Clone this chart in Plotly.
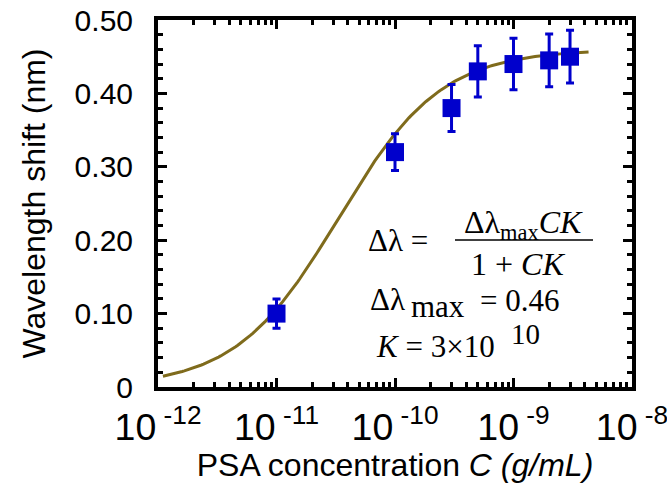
import numpy as np
import plotly.graph_objects as go

# Measured wavelength shift versus PSA concentration
conc = [1e-11, 1e-10, 3e-10, 5e-10, 1e-9, 2e-9, 3e-9]
shift = [0.100, 0.320, 0.380, 0.430, 0.440, 0.445, 0.450]
shift_err = [0.020, 0.025, 0.032, 0.035, 0.035, 0.036, 0.036]

# Langmuir-type binding fit parameters
dl_max = 0.46
K = 3e10
c_fit = np.logspace(np.log10(1.1e-12), np.log10(4.3e-9), 200)
fit = dl_max * c_fit * K / (1 + c_fit * K)

# tick label text (decade exponents on x, fixed two decimals on y)
x_exponents = [-12, -11, -10, -9, -8]
x_ticktext = {f"10<sup>\u2212{abs(e)}</sup>": f"10<sup> -{abs(e)}</sup>" for e in x_exponents}
y_ticktext = {"0.00": "0"}

W, H = 667, 486
L, R, T, B = 158, 35, 20, 99
pw, ph = W - L - R, H - T - B


def px(x):
    return (x - L) / pw


def py(y):
    return (H - B - y) / ph


fig = go.Figure()
fig.add_trace(go.Scatter(
    x=c_fit, y=fit, mode="lines",
    line=dict(color="#7f6b1c", width=3), showlegend=False, hoverinfo="skip"))
fig.add_trace(go.Scatter(
    x=conc, y=shift, mode="markers",
    marker=dict(symbol="square", size=18, color="#0000cc"),
    error_y=dict(type="data", array=shift_err, color="#0000cc", thickness=3, width=4),
    showlegend=False))

tick_font = dict(family="Liberation Sans, Arial", size=30, color="black")
title_font = dict(family="Liberation Sans, Arial", size=32, color="black")
frame = dict(showline=True, linecolor="black", linewidth=4, mirror="allticks",
             showgrid=False, zeroline=False, ticks="inside", ticklen=9,
             tickwidth=3, tickcolor="black", tickfont=tick_font,
             ticklabeloverflow="allow")

fig.update_xaxes(
    type="log", range=[-12.0002, -7.9998], dtick=1, exponentformat="power",
    labelalias=x_ticktext, ticklabelstandoff=5,
    minor=dict(ticks="inside", ticklen=5, tickwidth=3, tickcolor="black",
               dtick="D1", showgrid=False),
    title=dict(text="PSA concentration <i>C (g/mL)</i>", standoff=8, font=title_font),
    **frame)
fig.update_yaxes(
    range=[0, 0.5], tick0=0, dtick=0.1, tickformat=".2f",
    labelalias=y_ticktext, ticklabelstandoff=15,
    minor=dict(ticks="inside", ticklen=5, tickwidth=3, tickcolor="black",
               dtick=0.02, showgrid=False),
    title=dict(text="Wavelength shift (nm)", standoff=20, font=title_font),
    **frame)

serif = dict(family="Liberation Serif, Times New Roman", color="black")
ann = [
    # fitted binding isotherm
    dict(x=px(366), y=py(240), text="Δλ =", xanchor="left", yanchor="middle",
         font=dict(size=31, **serif)),
    dict(x=px(523), y=py(224), text="Δλ<sub>max</sub><i>CK</i>", xanchor="center",
         yanchor="middle", font=dict(size=32, **serif)),
    dict(x=px(518), y=py(264), text="1 + <i>CK</i>", xanchor="center",
         yanchor="middle", font=dict(size=32, **serif)),
    # fit parameters
    dict(x=px(368), y=py(299), text="Δλ", xanchor="left", yanchor="middle",
         font=dict(size=31, **serif)),
    dict(x=px(409), y=py(306), text="max", xanchor="left", yanchor="middle",
         font=dict(size=31, **serif)),
    dict(x=px(478), y=py(300), text="= 0.46", xanchor="left", yanchor="middle",
         font=dict(size=31, **serif)),
    dict(x=px(374), y=py(346), text="<i>K</i> = 3×10", xanchor="left",
         yanchor="middle", font=dict(size=31, **serif)),
    dict(x=px(509), y=py(334), text="10", xanchor="left", yanchor="middle",
         font=dict(size=29, **serif)),
]
for a in ann:
    a.update(xref="paper", yref="paper", showarrow=False)

fig.update_layout(
    width=W, height=H,
    margin=dict(l=L, r=R, t=T, b=B, autoexpand=False),
    paper_bgcolor="white", plot_bgcolor="white",
    annotations=ann,
    shapes=[dict(type="line", xref="paper", yref="paper",
                 x0=px(455), x1=px(593), y0=py(240), y1=py(240),
                 line=dict(color="black", width=1.5))],
)

fig.write_html("out.html")
